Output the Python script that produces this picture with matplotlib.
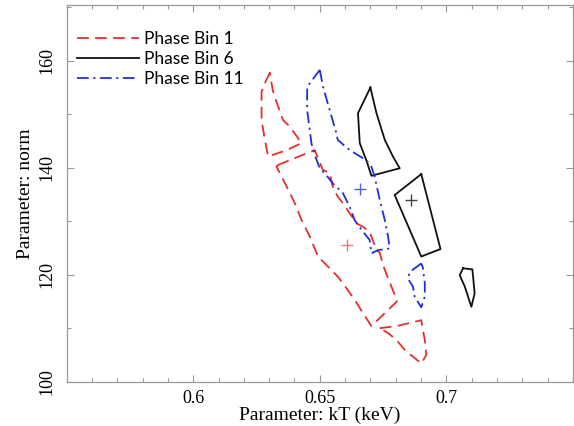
import numpy as np
import matplotlib
matplotlib.use("Agg")
import matplotlib.pyplot as plt
from matplotlib.ticker import MultipleLocator

# Phase Bin 1 (red) - three closed pieces
bin1_up_kt = [0.6303, 0.6283, 0.6270, 0.6270, 0.6283, 0.6296, 0.6369, 0.6428,
              0.6382, 0.6355, 0.6329, 0.6314]
bin1_up_norm = [157.8, 155.8, 154.2, 148.9, 145.2, 142.1, 143.3, 144.6,
                147.7, 148.9, 152.3, 154.5]

bin1_mid_kt = [0.6334, 0.6480, 0.6512, 0.6539, 0.6551, 0.6571, 0.6591, 0.6618,
               0.6645, 0.6670, 0.6697, 0.6709, 0.6724, 0.6737, 0.6750, 0.6770,
               0.6789, 0.6805, 0.6750, 0.6704, 0.6671, 0.6638, 0.6605, 0.6572,
               0.6533, 0.6493, 0.6461, 0.6428, 0.6401, 0.6369, 0.6329]
bin1_mid_norm = [140.5, 143.3, 139.6, 139.0, 136.5, 134.6, 133.4, 131.5,
                 129.6, 129.0, 128.0, 126.5, 124.6, 124.1, 121.8, 119.3,
                 117.1, 115.0, 112.5, 110.4, 112.8, 115.3, 117.5, 119.6,
                 121.5, 123.4, 127.1, 130.2, 133.4, 136.5, 140.2]

bin1_low_kt = [0.6737, 0.6803, 0.6849, 0.6901, 0.6905, 0.6915, 0.6921, 0.6901,
               0.6868, 0.6842, 0.6803, 0.6770]
bin1_low_norm = [110.0, 110.4, 110.9, 111.5, 110.3, 107.8, 105.0, 103.4,
                 104.7, 105.6, 107.8, 109.1]

# Phase Bin 6 (black)
bin6_a_kt = [0.6700, 0.6651, 0.6658, 0.6684, 0.6704, 0.6816, 0.6789, 0.6757, 0.6724]
bin6_a_norm = [155.0, 150.2, 144.6, 141.4, 138.5, 139.9, 142.1, 145.2, 150.2]

bin6_b_kt = [0.6901, 0.6796, 0.6901, 0.6977]
bin6_b_norm = [138.8, 134.9, 123.4, 124.8]

bin6_c_kt = [0.7066, 0.7103, 0.7112, 0.7099, 0.7090, 0.7073, 0.7053]
bin6_c_norm = [121.2, 121.0, 116.5, 114.0, 115.3, 117.8, 119.9]

# Phase Bin 11 (blue)
bin11_a_kt = [0.6500, 0.6450, 0.6450, 0.6467, 0.6480, 0.6500, 0.6526, 0.6551,
              0.6591, 0.6618, 0.6638, 0.6665, 0.6697, 0.6704, 0.6730, 0.6776,
              0.6770, 0.6757, 0.6737, 0.6717, 0.6704, 0.6684, 0.6618, 0.6571,
              0.6566, 0.6539, 0.6513]
bin11_a_norm = [158.3, 155.1, 150.8, 144.6, 142.4, 139.9, 138.6, 137.1,
                135.3, 132.7, 130.2, 128.4, 126.5, 124.0, 124.6, 124.9,
                127.1, 130.2, 134.0, 138.3, 140.2, 141.4, 143.3, 145.2,
                146.4, 150.8, 155.1]

bin11_b_kt = [0.6901, 0.6855, 0.6849, 0.6868, 0.6875, 0.6901, 0.6915, 0.6915, 0.6907]
bin11_b_norm = [122.1, 120.5, 119.2, 117.8, 115.9, 113.9, 115.9, 118.4, 121.4]

# best-fit positions
best_kt = [0.6609, 0.6859, 0.6658]
best_norm = [125.6, 134.0, 136.0]

RED = "#e3302f"
BLACK = "#111111"
BLUE = "#2030d8"


def closed(x, y):
    return np.append(x, x[0]), np.append(y, y[0])


fig = plt.figure(figsize=(5.74, 4.26), dpi=100)
ax = fig.add_axes([0.1162, 0.104, 0.8818, 0.884])

red_style = dict(color=RED, lw=1.3, dashes=(6.5, 3.5))
blue_style = dict(color=BLUE, lw=1.3, dashes=(6.5, 2.5, 1.2, 2.5))
black_style = dict(color=BLACK, lw=1.3, ls="-")

for i, (kx, ny) in enumerate([(bin1_up_kt, bin1_up_norm),
                              (bin1_mid_kt, bin1_mid_norm),
                              (bin1_low_kt, bin1_low_norm)]):
    x, y = closed(kx, ny)
    ax.plot(x, y, label="Phase Bin 1" if i == 0 else None, **red_style)

for i, (kx, ny) in enumerate([(bin6_a_kt, bin6_a_norm),
                              (bin6_b_kt, bin6_b_norm),
                              (bin6_c_kt, bin6_c_norm)]):
    x, y = closed(kx, ny)
    ax.plot(x, y, label="Phase Bin 6" if i == 0 else None, **black_style)

for i, (kx, ny) in enumerate([(bin11_a_kt, bin11_a_norm),
                              (bin11_b_kt, bin11_b_norm)]):
    x, y = closed(kx, ny)
    ax.plot(x, y, label="Phase Bin 11" if i == 0 else None, **blue_style)

# best fit crosses
ax.plot(best_kt[0], best_norm[0], "+", color="#ec7a7a", ms=9, mew=1)
ax.plot(best_kt[1], best_norm[1], "+", color="#444444", ms=9, mew=1)
ax.plot(best_kt[2], best_norm[2], "+", color="#5560e0", ms=9, mew=1)

ax.set_xlim(0.55, 0.75)
ax.set_ylim(100, 170.4)
ax.set_xticks([0.6, 0.65, 0.7])
ax.set_xticklabels(["0.6", "0.65", "0.7"])
ax.set_yticks([100, 120, 140, 160])
ax.xaxis.set_minor_locator(MultipleLocator(0.01))
ax.yaxis.set_minor_locator(MultipleLocator(10))

for s in ax.spines.values():
    s.set_color("#999999")
    s.set_linewidth(0.9)
ax.tick_params(which="both", direction="in", top=True, right=True,
               color="#999999", width=0.8)
ax.tick_params(which="major", length=5)
ax.tick_params(which="minor", length=3)
ax.tick_params(axis="x", pad=6)
ax.tick_params(axis="y", pad=8)

serif = "Liberation Serif"
for lab in ax.get_xticklabels():
    lab.set_fontfamily(serif)
    lab.set_fontsize(13)
for lab in ax.get_yticklabels():
    lab.set_fontfamily(serif)
    lab.set_fontsize(13)
    lab.set_rotation(90)
    lab.set_va("center")

ax.set_xlabel("Parameter: kT (keV)", fontfamily=serif, fontsize=14, labelpad=0)
ax.set_ylabel("Parameter: norm", fontfamily=serif, fontsize=14, labelpad=3)

leg = ax.legend(loc="upper left", bbox_to_anchor=(0.02, 0.93), frameon=False,
                borderpad=0, borderaxespad=0, handlelength=3.6,
                handletextpad=0.25, labelspacing=0.22,
                prop={"family": "Lato", "size": 12.5})

fig.savefig("out.png", dpi=100)
